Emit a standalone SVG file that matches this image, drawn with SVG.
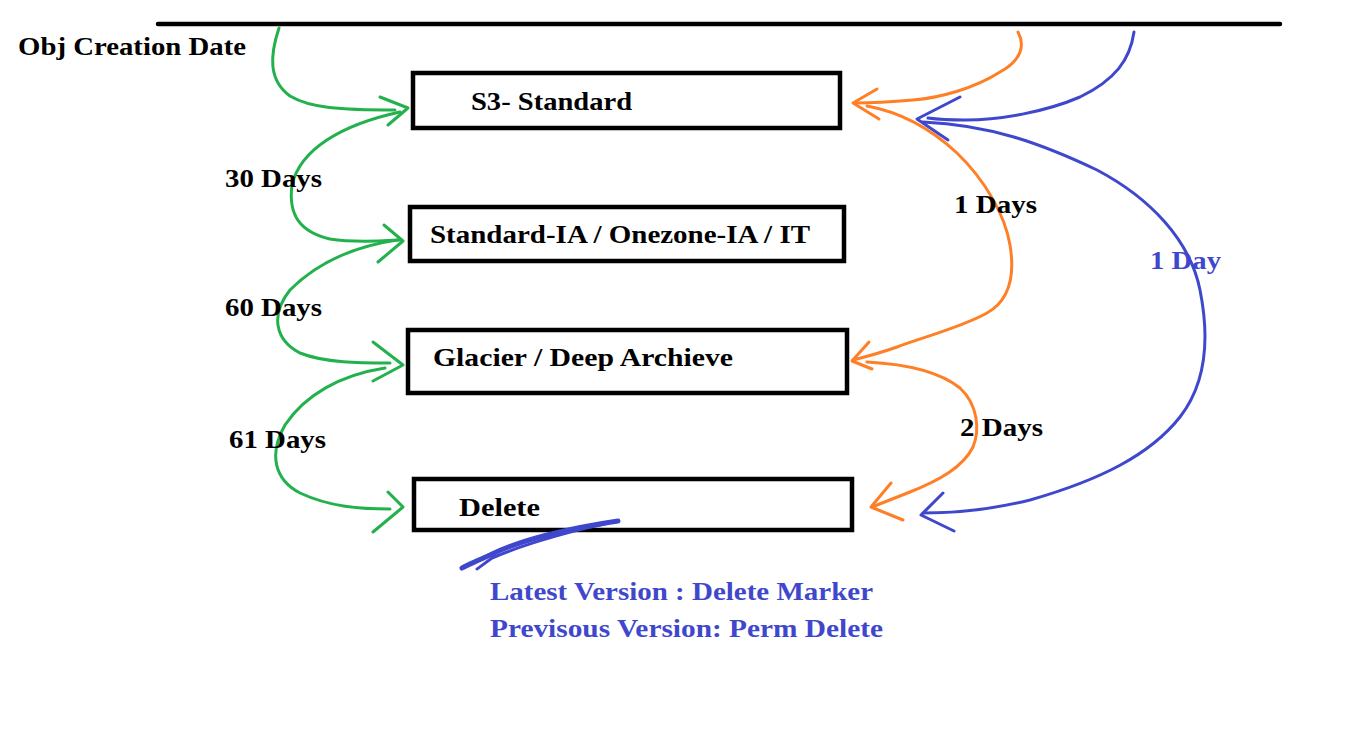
<svg xmlns="http://www.w3.org/2000/svg" width="1360" height="738" viewBox="0 0 1360 738">
<style>
text{font-family:"Liberation Serif","DejaVu Serif",serif;font-weight:bold;font-size:25px;fill:#000}
.blue{fill:#3f48cc}
.box{fill:#fff;stroke:#000;stroke-width:4.5}
.g{fill:none;stroke:#22b14c;stroke-width:3;stroke-linecap:round;stroke-linejoin:round}
.o{fill:none;stroke:#ff7f27;stroke-width:3;stroke-linecap:round;stroke-linejoin:round}
.b{fill:none;stroke:#3f48cc;stroke-width:3;stroke-linecap:round;stroke-linejoin:round}
</style>
<rect width="1360" height="738" fill="#fff"/>
<line x1="158" y1="24" x2="1280" y2="24" stroke="#000" stroke-width="4.5" stroke-linecap="round"/>
<text x="18" y="55" textLength="228" lengthAdjust="spacingAndGlyphs">Obj Creation Date</text>

<g id="s3-standard">
<rect class="box" x="413" y="73" width="427" height="55"/>
<text x="471" y="110" textLength="161" lengthAdjust="spacingAndGlyphs">S3- Standard</text>
</g>
<g id="standard-ia">
<rect class="box" x="410" y="207" width="434" height="54"/>
<text x="430" y="243" textLength="380" lengthAdjust="spacingAndGlyphs">Standard-IA / Onezone-IA / IT</text>
</g>
<g id="glacier">
<rect class="box" x="408" y="330" width="439" height="63"/>
<text x="433" y="366" textLength="300" lengthAdjust="spacingAndGlyphs">Glacier / Deep Archieve</text>
</g>
<g id="delete">
<rect class="box" x="414" y="479" width="438" height="51"/>
<text x="459" y="516" textLength="81" lengthAdjust="spacingAndGlyphs">Delete</text>
</g>

<g id="connectors">
<!-- green -->
<path class="g" d="M279,28 C270,55 268,80 290,96 C310,108 340,110 395,110"/>
<path class="g" d="M380,97 L408,108 L388,125"/>
<path class="g" d="M400,112 C340,125 300,150 292,185 C288,215 300,232 330,239 C355,243 380,241 400,240"/>
<path class="g" d="M384,225 L403,241 L378,262"/>
<path class="g" d="M397,240 C350,247 315,265 290,290 C270,315 275,340 300,353 C325,363 360,363 390,363"/>
<path class="g" d="M373,342 L403,365 L373,381"/>
<path class="g" d="M385,368 C340,375 305,395 285,425 C268,455 275,480 300,493 C330,507 360,509 390,509"/>
<path class="g" d="M388,492 L403,507 L373,532"/>
<!-- orange -->
<path class="o" d="M1018,32 C1025,45 1022,60 1000,72 C975,88 940,98 913,100 C890,102 870,103 856,103"/>
<path class="o" d="M877,89 L853,103 L879,119"/>
<path class="o" d="M867,106 C900,112 930,128 957,153 C985,180 1005,215 1010,245 C1015,275 1010,300 987,313 C960,328 920,338 897,347 C880,353 865,357 853,360"/>
<path class="o" d="M869,342 L852,361 L872,369"/>
<path class="o" d="M867,362 C905,364 940,372 960,388 C978,405 980,430 973,447 C963,467 940,480 910,492 C895,498 882,503 872,507"/>
<path class="o" d="M891,483 L871,507 L903,520"/>
<!-- blue -->
<path class="b" d="M1134,32 C1130,60 1115,80 1080,97 C1045,112 1000,120 965,120 C950,120 935,119 928,118"/>
<path class="b" d="M960,97 L917,119 L948,140"/>
<path class="b" d="M923,122 C990,125 1040,143 1097,170 C1150,198 1190,240 1200,290 C1210,340 1205,385 1180,417 C1150,455 1100,480 1030,500 C990,510 950,513 923,513"/>
<path class="b" d="M943,493 L921,515 L954,531"/>
<path d="M618,521 C570,528 520,540 490,555 C475,562 465,566 462,568" fill="none" stroke="#3f48cc" stroke-width="5" stroke-linecap="round"/>
<path d="M605,524 C560,533 515,548 492,558 C485,563 480,567 477,569" fill="none" stroke="#3f48cc" stroke-width="3" stroke-linecap="round"/>
</g>

<text x="225" y="187" textLength="97" lengthAdjust="spacingAndGlyphs">30 Days</text>
<text x="225" y="316" textLength="97" lengthAdjust="spacingAndGlyphs">60 Days</text>
<text x="229" y="448" textLength="97" lengthAdjust="spacingAndGlyphs">61 Days</text>
<text x="954" y="213" textLength="83" lengthAdjust="spacingAndGlyphs">1 Days</text>
<text x="960" y="436" textLength="83" lengthAdjust="spacingAndGlyphs">2 Days</text>
<text class="blue" x="1150" y="269" textLength="71" lengthAdjust="spacingAndGlyphs">1 Day</text>
<text class="blue" x="490" y="600" textLength="383" lengthAdjust="spacingAndGlyphs">Latest Version : Delete Marker</text>
<text class="blue" x="490" y="637" textLength="393" lengthAdjust="spacingAndGlyphs">Previsous Version: Perm Delete</text>
</svg>
